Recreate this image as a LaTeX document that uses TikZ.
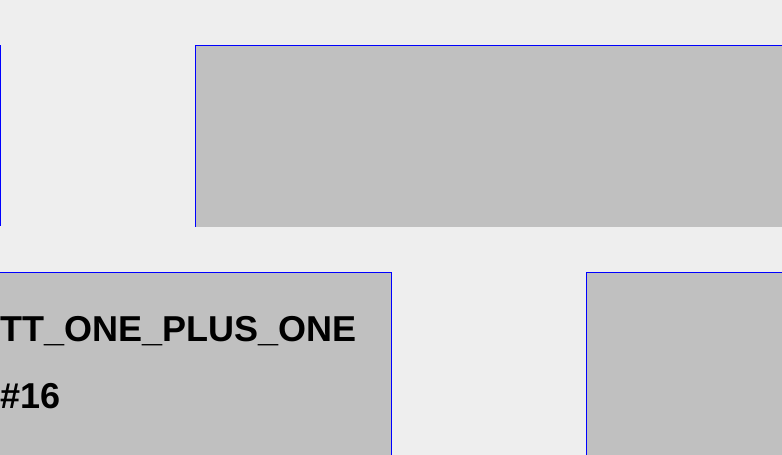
\documentclass[tikz,border=0pt]{standalone}
\usepackage{fontspec}
\setmainfont{Liberation Sans}
\definecolor{bgc}{HTML}{EEEEEE}
\definecolor{boxc}{HTML}{C0C0C0}
\definecolor{edgec}{HTML}{0000FF}
\tikzset{
  boxfill/.style={fill=boxc},
  edge/.style={draw=edgec, line width=1pt, line cap=rect},
  label/.style={anchor=base west, inner sep=0pt, font=\fontsize{36}{40}\selectfont\bfseries, text=black}
}
\begin{document}
\begin{tikzpicture}[x=1pt,y=-1pt]
  \useasboundingbox (0,0) rectangle (782,455);
  \fill[bgc] (0,0) rectangle (782,455);
  % top-left edge (box outside view)
  \draw[edge] (0.5,45.5) -- (0.5,225.5);
  % top box
  \fill[boxfill] (195,45) rectangle (782,227);
  \draw[edge] (195.5,226.5) -- (195.5,45.5) -- (782,45.5);
  % bottom-left box
  \fill[boxfill] (0,272) rectangle (392,455);
  \draw[edge] (0,272.5) -- (391.5,272.5) -- (391.5,455);
  % bottom-right box
  \fill[boxfill] (586,272) rectangle (782,455);
  \draw[edge] (586.5,455) -- (586.5,272.5) -- (782,272.5);
  % labels
  \node[label] (name) at (0,341) {TT\_ONE\_PLUS\_ONE};
  \node[label] (num) at (0,408.5) {\#16};
\end{tikzpicture}
\end{document}
